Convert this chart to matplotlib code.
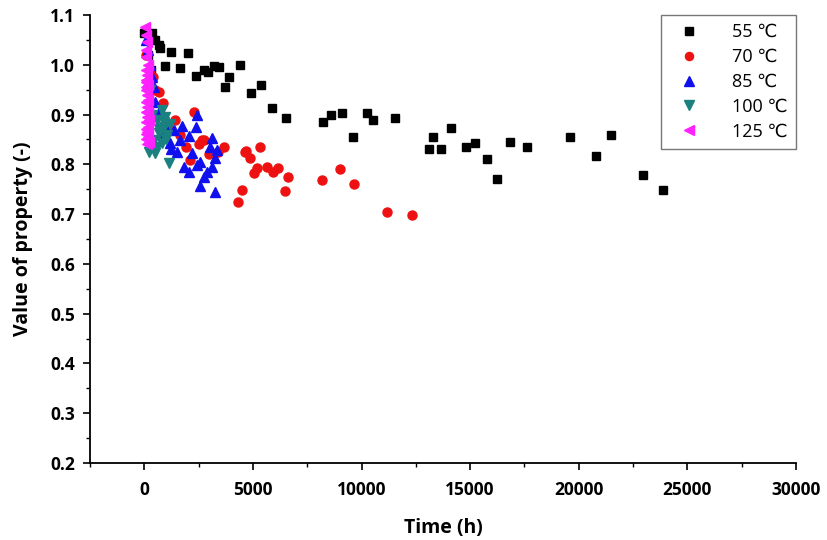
import matplotlib
matplotlib.use("Agg")
import matplotlib.pyplot as plt
from matplotlib.ticker import MultipleLocator

plt.rcParams['font.family'] = ['Open Sans', 'DejaVu Sans']

# 55 C
t55 = [0, 354, 506, 660, 736, 966, 1228, 1656, 1993, 2392, 2729, 2913, 3190, 3420,
       3726, 3880, 4386, 4908, 5368, 5873, 6532, 8220, 8588, 9108, 9628, 10244,
       10550, 11546, 13110, 13280, 13662, 14122, 14812, 15240, 15792, 16224, 16836,
       17604, 19596, 20792, 21482, 22968, 23860, 150, 300]
v55 = [1.063, 1.063, 1.05, 1.04, 1.033, 0.998, 1.025, 0.993, 1.023, 0.978, 0.99, 0.985,
       0.998, 0.995, 0.956, 0.976, 1.0, 0.944, 0.96, 0.913, 0.893, 0.886, 0.90, 0.903,
       0.854, 0.903, 0.89, 0.893, 0.83, 0.855, 0.831, 0.874, 0.834, 0.843, 0.811, 0.770,
       0.844, 0.835, 0.855, 0.817, 0.858, 0.779, 0.748, 1.02, 0.99]

# 70 C
t70 = [100, 250, 400, 660, 860, 1426, 1656, 2116, 2268, 2654, 2728, 3372, 3680,
       4292, 4494, 4646, 4692, 4844, 5060, 5184, 5304, 5644, 5920, 6150, 6486, 6638,
       8174, 9016, 9674, 11164, 12314, 1100, 1900, 2500, 3000, 500]
v70 = [1.02, 0.99, 0.975, 0.946, 0.923, 0.889, 0.859, 0.809, 0.906, 0.849, 0.849,
       0.825, 0.834, 0.724, 0.748, 0.825, 0.827, 0.813, 0.782, 0.792, 0.834, 0.795,
       0.785, 0.793, 0.746, 0.775, 0.769, 0.790, 0.760, 0.704, 0.698, 0.875, 0.835,
       0.84, 0.82, 0.95]

# 85 C
t85 = [100, 150, 250, 350, 450, 506, 700, 900, 1196, 1348, 1504, 1656, 1734, 1808,
       2038, 2038, 2194, 2392, 2424, 2424, 2576, 2576, 2728, 2882, 3036, 3114, 3114,
       3266, 3266, 3344, 1000, 800, 1250]
v85 = [1.05, 1.03, 1.0, 0.975, 0.955, 0.926, 0.905, 0.885, 0.842, 0.869, 0.825, 0.849,
       0.877, 0.795, 0.857, 0.785, 0.822, 0.876, 0.899, 0.799, 0.805, 0.756, 0.775,
       0.785, 0.835, 0.852, 0.795, 0.812, 0.745, 0.829, 0.87, 0.86, 0.83]

# 100 C
t100 = [200, 276, 428, 506, 584, 584, 660, 814, 814, 888, 966, 1000, 1044, 1118, 1196,
        350, 700, 900]
v100 = [0.825, 0.95, 0.849, 0.822, 0.889, 0.835, 0.862, 0.909, 0.842, 0.876, 0.896,
        0.85, 0.859, 0.802, 0.882, 0.90, 0.87, 0.885]

# 125 C
t125 = [50, 80, 120, 60, 100, 150, 70, 130, 90, 160, 60, 110, 180, 80, 140, 70, 120, 200,
        90, 150, 60, 130, 100, 170, 80, 210, 120, 60, 150, 100]
v125 = [1.075, 1.06, 1.045, 1.03, 1.015, 1.0, 0.99, 0.98, 0.97, 0.96, 0.95, 0.94, 0.93,
        0.925, 0.915, 0.905, 0.895, 0.89, 0.885, 0.875, 0.87, 0.865, 0.86, 0.855, 0.85,
        0.845, 0.84, 0.965, 0.905, 0.955]

labels = ["55 \u2103", "70 \u2103", "85 \u2103", "100 \u2103", "125 \u2103"]

fig = plt.figure(figsize=(8.27, 5.40), dpi=100)
ax = fig.add_axes([0.1088, 0.1426, 0.8537, 0.8296])

ax.plot(t55, v55, ls='none', marker='s', ms=6, color='black', label=labels[0])
ax.plot(t70, v70, ls='none', marker='o', ms=6.5, color='#ee1111', label=labels[1])
ax.plot(t85, v85, ls='none', marker='^', ms=7.5, color='#1010ee', label=labels[2])
ax.plot(t100, v100, ls='none', marker='v', ms=7.5, color='#1a8080', label=labels[3])
ax.plot(t125, v125, ls='none', marker='<', ms=7.5, color='#ff22ff', label=labels[4])

ax.set_xlim(-2500, 30000)
ax.set_ylim(0.2, 1.1)
ax.xaxis.set_major_locator(MultipleLocator(5000))
ax.xaxis.set_minor_locator(MultipleLocator(2500))
ax.yaxis.set_major_locator(MultipleLocator(0.1))
ax.yaxis.set_minor_locator(MultipleLocator(0.05))
ax.yaxis.set_major_formatter(plt.FormatStrFormatter('%.1f'))

for s in ['top', 'right']:
    ax.spines[s].set_visible(False)
for s in ['left', 'bottom']:
    ax.spines[s].set_linewidth(1.3)
ax.tick_params(which='major', direction='out', length=5, width=1.2, labelsize=12.5)
ax.tick_params(axis='x', which='major', pad=8)
ax.tick_params(axis='y', which='major', pad=6)
ax.tick_params(which='minor', direction='out', length=3, width=1.0)
for lbl in ax.get_xticklabels() + ax.get_yticklabels():
    lbl.set_fontweight('bold')

ax.set_xlabel("Time (h)", fontsize=14, fontweight='bold', labelpad=14)
ax.set_ylabel("Value of property (-)", fontsize=14, fontweight='bold', labelpad=12)

leg = ax.legend(loc='upper right', bbox_to_anchor=(1.0, 1.0), fontsize=13,
                frameon=True, fancybox=False, edgecolor='#555555',
                labelspacing=0.38, handletextpad=1.3, borderpad=0.45,
                markerscale=0.9, borderaxespad=0.0, handlelength=2.2)
leg.get_frame().set_linewidth(1.0)

fig.savefig("out.png", dpi=100)
